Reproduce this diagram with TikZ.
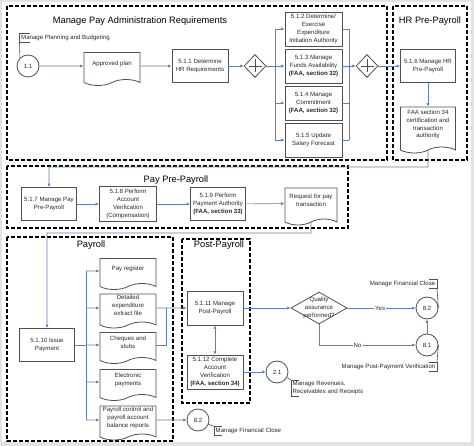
\documentclass[tikz,border=0pt]{standalone}
\usepackage{fontspec}
\setmainfont{Liberation Sans}
\usetikzlibrary{arrows.meta,positioning,shapes.geometric,shapes.symbols}

\definecolor{flowblue}{RGB}{96,128,186}
\definecolor{boxgrey}{RGB}{80,80,80}
\definecolor{inkgrey}{RGB}{40,40,40}

\begin{document}
\begin{tikzpicture}[x=1pt,y=-1pt,>={Latex[length=3.5pt,width=3pt]},
  every node/.style={font=\fontsize{6.1}{7.8}\selectfont,text=inkgrey},
  proc/.style={draw=boxgrey,line width=0.8pt,minimum width=56pt,minimum height=33pt,inner sep=1pt,align=center},
  docu/.style={tape,tape bend top=none,tape bend bottom=in and out,tape bend height=6pt,draw=boxgrey,line width=0.8pt,minimum width=56pt,minimum height=33pt,inner sep=1pt,text depth=6pt,align=center},
  ref/.style={circle,draw=boxgrey,line width=0.8pt,minimum size=22pt,inner sep=0pt},
  gate/.style={diamond,draw=boxgrey,line width=0.8pt,minimum width=22pt,minimum height=23pt,inner sep=0pt,
    path picture={\draw[boxgrey,line width=0.9pt]
      ([xshift=-6.5pt]path picture bounding box.center) -- ([xshift=6.5pt]path picture bounding box.center)
      ([yshift=-6.5pt]path picture bounding box.center) -- ([yshift=6.5pt]path picture bounding box.center);}},
  choice/.style={diamond,draw=boxgrey,line width=0.8pt,minimum width=56pt,minimum height=32pt,inner sep=0pt},
  lane/.style={draw=black,line width=1.3pt,dash pattern=on 4pt off 2pt},
  lanetitle/.style={font=\fontsize{9.3}{11}\selectfont,text=black},
  note/.style={inner sep=1.5pt,align=left},
  flow/.style={->,draw=flowblue,line width=0.6pt},
  link/.style={draw=flowblue,line width=0.6pt},
  assoc/.style={draw=boxgrey,line width=0.6pt}]

  \useasboundingbox (0,0) rectangle (474,446);
  \fill[gray!22] (0,0) rectangle (474,446);
  \fill[white] (2,2) rectangle (471,442);

  % swimlanes
  \draw[lane] (7,6) rectangle (387,160);
  \draw[lane] (393,6) rectangle (467,160);
  \draw[lane] (7,166) rectangle (348,228);
  \draw[lane] (7,237) rectangle (173,441);
  \draw[lane] (182,239) rectangle (250,403);
  \node[lanetitle] (t1) at (140,21) {Manage Pay Administration Requirements};
  \node[lanetitle] (t2) at (430,21) {HR Pre-Payroll};
  \node[lanetitle] (t3) at (176,180) {Pay Pre-Payroll};
  \node[lanetitle] (t4) at (91,245) {Payroll};
  \node[lanetitle] (t5) at (219,245) {Post-Payroll};

  % pay administration requirements
  \node[ref] (r11) at (28,66) {1.1};
  \node[note,anchor=west] (a11) at (19.5,38) {Manage Planning and Budgeting};
  \node[docu] (plan) at (112,66) {Approved plan};
  \node[proc] (d511) at (200,66) {5.1.1 Determine\\HR Requirements};
  \node[gate] (g1) at (255,66) {};
  \node[proc,minimum width=57pt,minimum height=34pt] (d512) at (313.5,29) {5.1.2 Determine/\\Exercise\\Expenditure\\Initiation Authority};
  \node[proc,minimum width=57pt,minimum height=34pt] (d513) at (313.5,66) {5.1.3 Manage\\Funds Availability\\\textbf{(FAA, section 32)}};
  \node[proc,minimum width=57pt,minimum height=34pt] (d514) at (313.5,103) {5.1.4 Manage\\Commitment\\\textbf{(FAA, section 32)}};
  \node[proc,minimum width=57pt,minimum height=34pt] (d515) at (313.5,140) {5.1.5 Update\\Salary Forecast};
  \node[gate] (g2) at (367,66) {};
  \coordinate (fork1) at (275,66);
  \coordinate (join1) at (349,66);

  % hr pre-payroll
  \node[proc,minimum width=55pt] (d516) at (428,66) {5.1.6 Manage HR\\Pre-Payroll};
  \node[docu,minimum width=55pt,minimum height=46pt] (faa) at (428,127) {FAA section 34\\certification and\\transaction\\authority};
  \coordinate (turn1) at (428,167);

  % pay pre-payroll
  \node[proc,minimum width=55pt] (d517) at (49,204) {5.1.7 Manage Pay\\Pre-Payroll};
  \node[proc,minimum width=57pt,minimum height=35pt] (d518) at (128,204) {5.1.8 Perform\\Account\\Verification\\(Compensation)};
  \node[proc,minimum width=55pt] (d519) at (218,204) {5.1.9 Perform\\Payment Authority\\\textbf{(FAA, section 33)}};
  \node[docu,minimum width=52pt,minimum height=37pt] (req) at (311,203.5) {Request for pay\\transaction};
  \coordinate (turn2) at (311,233);

  % payroll
  \node[proc,minimum width=55pt] (d5110) at (47,345) {5.1.10 Issue\\Payment};
  \coordinate (bus2) at (86,345);
  \node[docu,minimum height=31pt] (preg) at (128,271) {Pay register};
  \node[docu,minimum height=32pt] (det) at (128,308) {Detailed\\expenditure\\extract file};
  \node[docu,minimum height=31pt] (cheq) at (128,345) {Cheques and\\stubs};
  \node[docu,minimum height=31pt] (epay) at (128,382) {Electronic\\payments};
  \node[docu] (ctl) at (128,420) {Payroll control and\\payroll account\\balance reports};
  \coordinate (join2) at (166,308);
  \node[ref] (c82b) at (198,420) {8.2};
  \node[note,anchor=west] (a82b) at (214,431) {Manage Financial Close};

  % post-payroll
  \node[proc,minimum height=34pt] (d5111) at (215,308) {5.1.11 Manage\\Post-Payroll};
  \node[proc,minimum height=34pt] (d5112) at (215,372) {5.1.12 Complete\\Account\\Verification\\\textbf{(FAA, section 34)}};
  \node[choice,label={[align=center]center:Quality\\assurance\\performed?}] (qa) at (319,308) {};
  \node[ref] (c82a) at (427,308) {8.2};
  \node[ref] (c81) at (427,345) {8.1};
  \node[ref] (c21) at (277,372) {2.1};
  \node[note,anchor=east] (a82a) at (437,284) {Manage Financial Close};
  \node[note,anchor=east] (a81) at (437,367) {Manage Post-Payment Verification};
  \node[note,anchor=north west] (a21) at (291,380) {Manage Revenues,\\Receivables and Receipts};

  % flows
  \draw[flow] (r11) -- (plan);
  \draw[flow] (plan) -- (d511);
  \draw[flow] (d511) -- (g1);
  \draw[link] (g1) -- (fork1);
  \draw[link] (fork1 |- d512) -- (fork1 |- d515);
  \foreach \n in {d512,d513,d514,d515}
    \draw[flow] (fork1 |- \n) -- (\n);
  \draw[link] (join1 |- d512) -- (join1 |- d515);
  \foreach \n in {d512,d514,d515}
    \draw[link] (\n) -- (join1 |- \n);
  \draw[flow] (d513) -- (g2);
  \draw[flow] (g2) -- (d516);
  \draw[flow] (d516) -- (faa);
  \draw[flow] (faa) -- (turn1) -| (d517);
  \draw[flow] (d517) -- (d518);
  \draw[flow] (d518) -- (d519);
  \draw[flow] (d519) -- (req);
  \draw[flow] (req) -- (turn2) -| (d5110);
  \draw[link] (d5110) -- (bus2);
  \draw[link] (bus2 |- preg) -- (bus2 |- ctl);
  \foreach \n in {preg,det,cheq,epay,ctl}
    \draw[flow] (bus2 |- \n) -- (\n);
  \draw[flow] (det) -- (d5111);
  \draw[link] (cheq) -| (join2);
  \draw[flow] (ctl) -- (c82b);
  \draw[flow,<->] (d5111) -- (d5112);
  \draw[flow] (d5111) -- (qa);
  \draw[flow] (qa) -- node[fill=white,inner sep=1pt,pos=0.48] {Yes} (c82a);
  \draw[flow] (qa.south) |- node[fill=white,inner sep=1pt,pos=0.7] {No} (c81);
  \draw[flow] (c81) -- (c82a);
  \draw[flow] (d5112) -- (c21);

  % annotations
  \draw[assoc] ([xshift=10pt]a11.north west) -- (a11.north west) -- (a11.south west) -- ([xshift=10pt]a11.south west);
  \draw[assoc] (a11.south west) -- (r11.north west);
  \draw[assoc] ([xshift=-8pt]a82a.north east) -- (a82a.north east) -- (a82a.south east) -- ([xshift=-8pt]a82a.south east);
  \draw[assoc] (a82a.south east) -- (c82a.east);
  \draw[assoc] ([xshift=-8pt]a81.north east) -- (a81.north east) -- (a81.south east) -- ([xshift=-8pt]a81.south east);
  \draw[assoc] (a81.north east) -- (c81.east);
  \draw[assoc] ([xshift=8pt]a21.north west) -- (a21.north west) -- (a21.south west) -- ([xshift=8pt]a21.south west);
  \draw[assoc] (c21) -- (a21.north west);
  \draw[assoc] ([xshift=8pt]a82b.north west) -- (a82b.north west) -- (a82b.south west) -- ([xshift=8pt]a82b.south west);
  \draw[assoc] (c82b) -- (a82b.north west);
\end{tikzpicture}
\end{document}
